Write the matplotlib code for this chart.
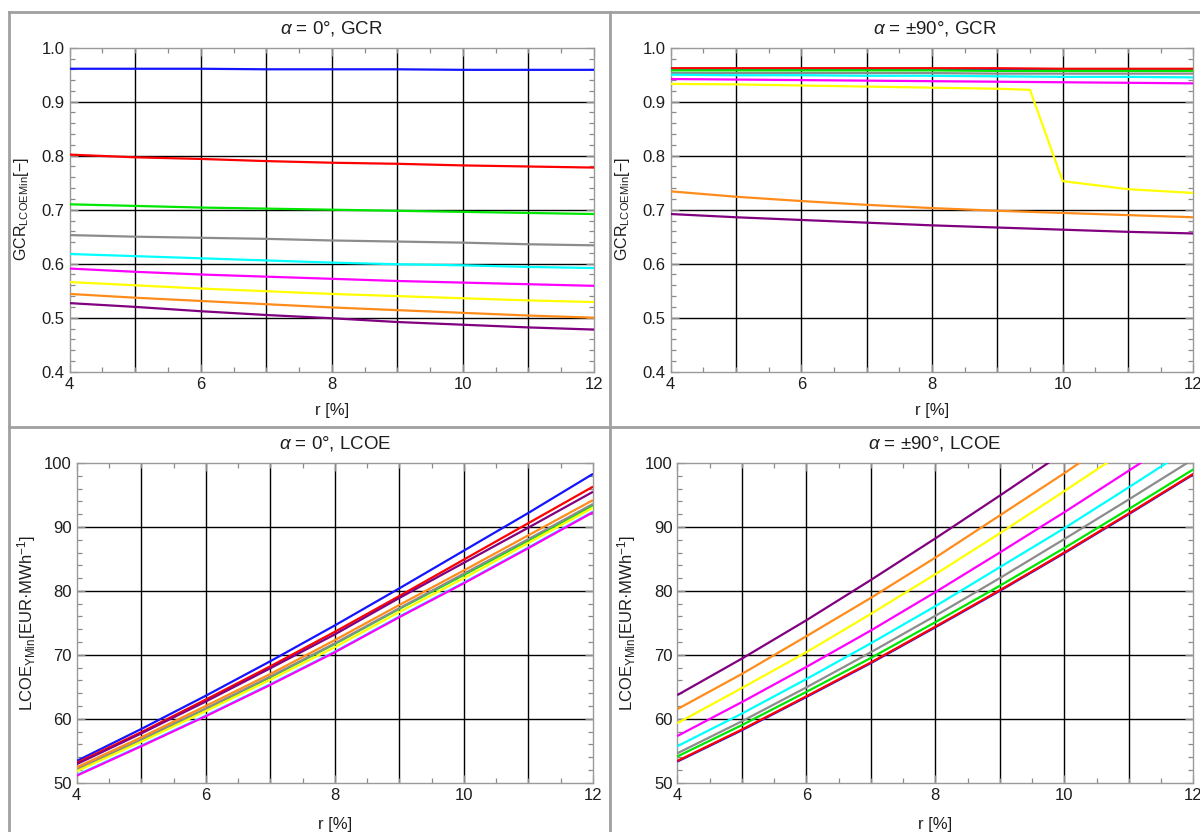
import matplotlib
matplotlib.use("Agg")
import matplotlib.pyplot as plt
from matplotlib.lines import Line2D
from matplotlib.ticker import MultipleLocator, FixedLocator

plt.rcParams["font.family"] = ["Liberation Sans", "DejaVu Sans"]
plt.rcParams["mathtext.fontset"] = "custom"
plt.rcParams["mathtext.rm"] = "Liberation Sans"
plt.rcParams["mathtext.it"] = "Liberation Sans:italic"
plt.rcParams["mathtext.bf"] = "Liberation Sans:bold"

# ---------------------------------------------------------------- data
r = [4, 5, 6, 7, 8, 9, 10, 11, 12]          # discount rate [%]

series_order = ["blue", "red", "green", "gray", "cyan",
                "magenta", "yellow", "orange", "purple"]
series_colors = ["#1414ff", "#ff0000", "#00e600", "#8c8c8c", "#00ffff",
                 "#ff00ff", "#ffff00", "#ff8c1a", "#800080"]

# alpha = 0 deg, GCR at minimum LCOE
gcr0_blue = [0.961, 0.961, 0.961, 0.960, 0.960, 0.960, 0.959, 0.959, 0.959]
gcr0_red = [0.802, 0.797, 0.794, 0.790, 0.787, 0.785, 0.782, 0.780, 0.778]
gcr0_green = [0.710, 0.707, 0.704, 0.702, 0.700, 0.698, 0.696, 0.694, 0.692]
gcr0_gray = [0.653, 0.650, 0.648, 0.646, 0.643, 0.641, 0.639, 0.636, 0.634]
gcr0_cyan = [0.618, 0.614, 0.610, 0.606, 0.602, 0.599, 0.597, 0.594, 0.592]
gcr0_magenta = [0.591, 0.585, 0.580, 0.576, 0.572, 0.568, 0.565, 0.562, 0.559]
gcr0_yellow = [0.566, 0.560, 0.554, 0.549, 0.544, 0.540, 0.536, 0.532, 0.529]
gcr0_orange = [0.544, 0.537, 0.531, 0.525, 0.519, 0.514, 0.509, 0.504, 0.500]
gcr0_purple = [0.527, 0.520, 0.512, 0.505, 0.499, 0.492, 0.487, 0.482, 0.478]

# alpha = +-90 deg, GCR at minimum LCOE
gcr90_blue = [0.961, 0.961, 0.961, 0.961, 0.961, 0.960, 0.960, 0.960, 0.960]
gcr90_red = [0.962, 0.962, 0.962, 0.962, 0.962, 0.962, 0.961, 0.961, 0.961]
gcr90_green = [0.958, 0.958, 0.958, 0.958, 0.958, 0.957, 0.957, 0.957, 0.957]
gcr90_gray = [0.953, 0.953, 0.953, 0.953, 0.953, 0.952, 0.952, 0.952, 0.952]
gcr90_cyan = [0.950, 0.949, 0.949, 0.948, 0.948, 0.947, 0.946, 0.946, 0.945]
gcr90_magenta = [0.942, 0.941, 0.940, 0.939, 0.938, 0.937, 0.936, 0.935, 0.934]
r_yellow90 = [4, 5, 6, 7, 8, 9, 9.5, 10, 11, 12]
gcr90_yellow = [0.933, 0.932, 0.930, 0.928, 0.926, 0.924, 0.922, 0.753, 0.738, 0.731]
gcr90_orange = [0.734, 0.724, 0.716, 0.709, 0.703, 0.698, 0.694, 0.690, 0.686]
gcr90_purple = [0.692, 0.686, 0.681, 0.676, 0.671, 0.667, 0.663, 0.659, 0.656]

# alpha = 0 deg, minimum LCOE [EUR/MWh]
lcoe0_blue = [53.4, 58.4, 63.6, 69.0, 74.6, 80.4, 86.3, 92.2, 98.3]
lcoe0_red = [53.1, 57.9, 63.0, 68.2, 73.6, 79.2, 84.9, 90.6, 96.3]
lcoe0_green = [52.0, 56.7, 61.5, 66.5, 71.7, 77.2, 82.5, 87.9, 93.4]
lcoe0_gray = [52.1, 56.8, 61.6, 66.6, 71.8, 77.3, 82.7, 88.1, 93.6]
lcoe0_cyan = [51.2, 55.8, 60.5, 65.4, 70.5, 76.0, 81.3, 86.8, 92.4]
lcoe0_magenta = [51.1, 55.7, 60.4, 65.3, 70.4, 75.9, 81.2, 86.7, 92.3]
lcoe0_yellow = [51.8, 56.4, 61.2, 66.1, 71.2, 76.7, 82.0, 87.5, 93.0]
lcoe0_orange = [52.4, 57.1, 62.0, 67.0, 72.3, 77.8, 83.2, 88.7, 94.2]
lcoe0_purple = [52.9, 57.7, 62.7, 67.9, 73.2, 78.9, 84.4, 89.9, 95.5]

# alpha = +-90 deg, minimum LCOE [EUR/MWh]
lcoe90_blue = [53.3, 58.2, 63.4, 68.7, 74.3, 80.0, 85.9, 92.0, 98.2]
lcoe90_red = [53.4, 58.3, 63.5, 68.8, 74.4, 80.1, 86.0, 92.1, 98.3]
lcoe90_green = [54.1, 59.0, 64.2, 69.5, 75.1, 80.8, 86.7, 92.8, 99.0]
lcoe90_gray = [54.6, 59.6, 64.9, 70.4, 76.1, 82.0, 88.1, 94.3, 100.6]
lcoe90_cyan = [55.7, 60.8, 66.2, 71.8, 77.6, 83.7, 89.8, 96.2, 102.7]
lcoe90_magenta = [57.3, 62.6, 68.1, 73.8, 79.8, 86.0, 92.3, 98.8, 105.4]
lcoe90_yellow = [59.3, 64.8, 70.4, 76.4, 82.6, 89.0, 95.6, 102.3]
lcoe90_orange = [61.5, 67.0, 72.9, 78.9, 85.2, 91.8, 98.4, 105.3]
lcoe90_purple = [63.7, 69.4, 75.4, 81.7, 88.2, 94.9, 101.7]

panel_titles = [r"$\alpha$ = 0°, GCR", r"$\alpha$ = ±90°, GCR",
                r"$\alpha$ = 0°, LCOE", r"$\alpha$ = ±90°, LCOE"]
xlabel = "r [%]"
ylabel_gcr = r"GCR$_{\mathrm{LCOEMin}}$[−]"
ylabel_lcoe = r"LCOE$_{\mathrm{YMin}}$[EUR·MWh$^{\mathrm{-1}}$]"

# ---------------------------------------------------------------- layout
W, H = 1200, 832
fig = plt.figure(figsize=(W / 100, H / 100), dpi=100)
fig.patch.set_facecolor("white")

TXT = "#1e1e1e"


def fx(px):
    return px / W


def fy(py):
    return 1 - py / H


def make_axes(x0, y0, x1, y1):
    return fig.add_axes([fx(x0), fy(y1), (x1 - x0) / W, (y1 - y0) / H])


# cell frame of the 2x2 table
frame_kw = dict(color="#a0a0a0", lw=2.0, transform=fig.transFigure)
fig.add_artist(Line2D([fx(9), fx(9)], [fy(12), 0], **frame_kw))
fig.add_artist(Line2D([fx(610), fx(610)], [fy(12), 0], **frame_kw))
fig.add_artist(Line2D([fx(9), 1], [fy(12), fy(12)], **frame_kw))
fig.add_artist(Line2D([fx(9), 1], [fy(427), fy(427)], **frame_kw))


def style_axes(ax, ylim, ymajor, yminor, ygrid):
    ax.set_xlim(4, 12)
    ax.set_ylim(*ylim)
    ax.xaxis.set_major_locator(FixedLocator([4, 6, 8, 10, 12]))
    ax.xaxis.set_minor_locator(MultipleLocator(0.5))
    ax.yaxis.set_major_locator(MultipleLocator(ymajor))
    ax.yaxis.set_minor_locator(MultipleLocator(yminor))
    ax.tick_params(which="both", direction="in", top=True, right=True,
                   color="#8a8a8a", width=0.9)
    ax.tick_params(which="major", length=6, labelsize=12, labelcolor=TXT,
                   pad=3.5)
    ax.tick_params(which="minor", length=3.5)
    for sp in ax.spines.values():
        sp.set_color("#9a9a9a")
        sp.set_linewidth(1.0)
    for g in [5, 6, 7, 8, 9, 10, 11]:
        ax.axvline(g, color="black", lw=1.0, zorder=1)
    for g in ygrid:
        ax.axhline(g, color="black", lw=1.0, zorder=1)


def fmt_gcr(ax):
    ax.set_yticks([0.4, 0.5, 0.6, 0.7, 0.8, 0.9, 1.0])
    ax.set_yticklabels(["0.4", "0.5", "0.6", "0.7", "0.8", "0.9", "1.0"])


# ---- top left
ax1 = make_axes(69.7, 47.7, 594, 371.7)
style_axes(ax1, (0.4, 1.0), 0.1, 0.02, [0.5, 0.6, 0.7, 0.8, 0.9])
fmt_gcr(ax1)
gcr0 = [gcr0_blue, gcr0_red, gcr0_green, gcr0_gray, gcr0_cyan,
        gcr0_magenta, gcr0_yellow, gcr0_orange, gcr0_purple]
for vals, c in zip(gcr0, series_colors):
    ax1.plot(r, vals, color=c, lw=1.6, zorder=3, solid_capstyle="butt")

# ---- top right
ax2 = make_axes(670.7, 47.7, 1193.3, 371.7)
style_axes(ax2, (0.4, 1.0), 0.1, 0.02, [0.5, 0.6, 0.7, 0.8, 0.9])
fmt_gcr(ax2)
gcr90 = [(r, gcr90_blue), (r, gcr90_red), (r, gcr90_green), (r, gcr90_gray),
         (r, gcr90_cyan), (r, gcr90_magenta), (r_yellow90, gcr90_yellow),
         (r, gcr90_orange), (r, gcr90_purple)]
for (xs, vals), c in zip(gcr90, series_colors):
    ax2.plot(xs, vals, color=c, lw=1.6, zorder=3, solid_capstyle="butt")

# ---- bottom left
ax3 = make_axes(76.7, 463, 593, 782.7)
style_axes(ax3, (50, 100), 10, 2, [60, 70, 80, 90])
lcoe0 = [lcoe0_blue, lcoe0_red, lcoe0_green, lcoe0_gray, lcoe0_cyan,
         lcoe0_magenta, lcoe0_yellow, lcoe0_orange, lcoe0_purple]
for vals, c in zip(lcoe0, series_colors):
    ax3.plot(r, vals, color=c, lw=1.6, zorder=3, solid_capstyle="butt")

# ---- bottom right
ax4 = make_axes(677.3, 463, 1193.3, 782.7)
style_axes(ax4, (50, 100), 10, 2, [60, 70, 80, 90])
lcoe90 = [lcoe90_blue, lcoe90_red, lcoe90_green, lcoe90_gray, lcoe90_cyan,
          lcoe90_magenta, lcoe90_yellow, lcoe90_orange, lcoe90_purple]
for vals, c in zip(lcoe90, series_colors):
    ax4.plot(r[:len(vals)], vals, color=c, lw=1.6, zorder=3,
             solid_capstyle="butt")

for ax in (ax1, ax2, ax3, ax4):
    ax.set_xticklabels(["4", "6", "8", "10", "12"])

# titles, axis labels
title_pos = [(332, 28), (935, 28), (335, 443), (935, 443)]
for t, (px, py) in zip(panel_titles, title_pos):
    fig.text(fx(px), fy(py), t, ha="center", va="center", fontsize=13.5,
             color=TXT)

for px, py in [(332, 410), (932, 410), (335, 824), (935, 824)]:
    fig.text(fx(px), fy(py), xlabel, ha="center", va="center", fontsize=12,
             color=TXT)

for px, py in [(22, 209), (622, 209)]:
    fig.text(fx(px), fy(py), ylabel_gcr, ha="center", va="center",
             rotation=90, fontsize=11.5, color=TXT)
for px, py in [(27, 623), (627, 623)]:
    fig.text(fx(px), fy(py), ylabel_lcoe, ha="center", va="center",
             rotation=90, fontsize=12, color=TXT)

fig.savefig("out.png", dpi=100, facecolor="white")
